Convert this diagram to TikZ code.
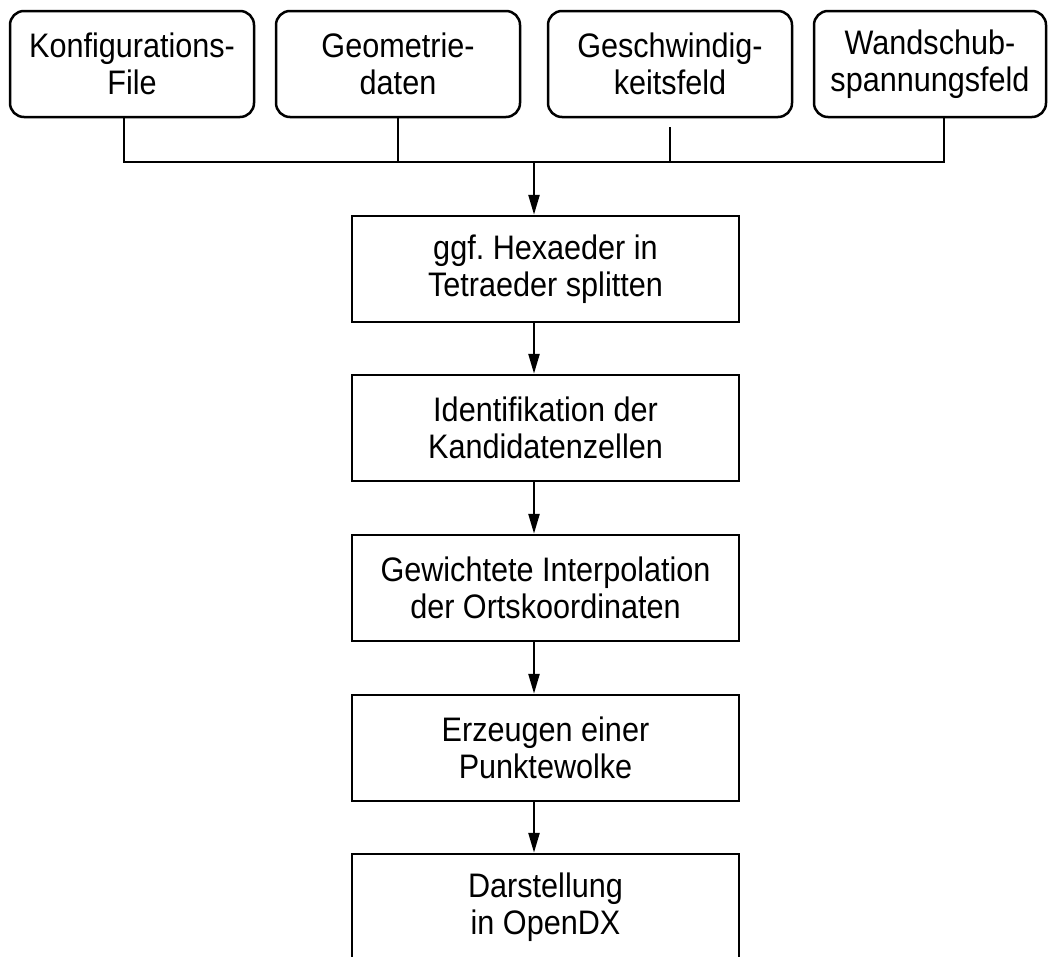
\documentclass[tikz,border=0pt]{standalone}
\usepackage{fontspec}
\setmainfont{Liberation Sans}[FakeStretch=0.9]
\usetikzlibrary{arrows.meta}
\frenchspacing
\tikzset{
  every picture/.style={x=1pt,y=-1pt},
  lw/.style={line width=2.5pt},
  txt/.style={align=center,inner sep=0pt,font=\fontsize{34}{37}\selectfont},
  inbox/.style={lw,draw,txt,rounded corners=14pt,minimum width=244pt,minimum height=106pt},
  stepbox/.style={lw,draw,txt,minimum width=387pt,minimum height=106pt},
  conn/.style={lw},
  arr/.style={lw,-{Triangle[length=20pt,width=11pt]}},
}
\begin{document}
\begin{tikzpicture}
\useasboundingbox (0,0) rectangle (1048,956);
\clip (0,0) rectangle (1048,956);
\node[inbox] (t1) at (132,64) {Konfigurations-\\File};
\node[inbox] (t2) at (398,64) {Geometrie-\\daten};
\node[inbox] (t3) at (670,64) {Geschwindig-\\keitsfeld};
\node[inbox,minimum width=232pt] (t4) at (930,64) {Wandschub-\\spannungsfeld};

\node[stepbox] (a) at (545.5,269) {ggf. Hexaeder in\\Tetraeder splitten};
\node[stepbox] (b) at (545.5,428) {Identifikation der\\Kandidatenzellen};
\node[stepbox] (c) at (545.5,588) {Gewichtete Interpolation\\der Ortskoordinaten};
\node[stepbox] (d) at (545.5,748) {Erzeugen einer\\Punktewolke};
\node[stepbox] (e) at (545.5,907) {Darstellung\\in OpenDX};

\coordinate (s1) at (124,162);
\coordinate (s2) at (398,162);
\coordinate (s3) at (670,162);
\coordinate (s4) at (944,162);
\coordinate (j) at (534,162);

\draw[conn] (s1 |- t1.south) -- (s1) -- (s4) -- (s4 |- t4.south);
\draw[conn] (s2 |- t2.south) -- (s2);
\draw[conn] ([yshift=-9pt]s3 |- t3.south) -- (s3);

\draw[arr] (j) -- (j |- a.north);
\draw[arr] (j |- a.south) -- (j |- b.north);
\draw[arr] (j |- b.south) -- (j |- c.north);
\draw[arr] (j |- c.south) -- (j |- d.north);
\draw[arr] (j |- d.south) -- (j |- e.north);
\end{tikzpicture}
\end{document}
